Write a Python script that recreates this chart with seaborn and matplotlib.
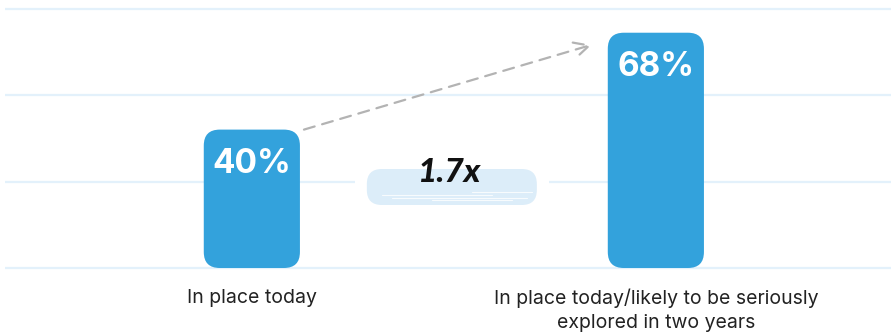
import numpy as np
import pandas as pd
import matplotlib
matplotlib.use("Agg")
import matplotlib.pyplot as plt
from matplotlib.patches import FancyBboxPatch
import seaborn as sns

# Share of organisations, now vs. within two years
categories = ["In place today", "In place today/likely to be seriously\nexplored in two years"]
values = [40, 68]
value_labels = ["40%", "68%"]
growth_label = "1.7x"

BAR_COLOR = "#33a2dc"
GRID_COLOR = "#e3f1fb"
BRUSH_COLOR = "#dcedf9"

sns.set_theme(style="white")
plt.rcParams["font.family"] = ["Inter", "DejaVu Sans"]

W, H, DPI = 891, 333, 100
fig = plt.figure(figsize=(W / DPI, H / DPI), dpi=DPI)
ax_left, ax_bottom_px, ax_top_px = 5, 272, 0
base_px = 268          # pixel row of the zero line
px_y = 3.46            # pixels per percentage point
y_min = -(ax_bottom_px - base_px) / px_y
y_max = base_px / px_y
ax = fig.add_axes([ax_left / W, (H - ax_bottom_px) / H, (W - ax_left) / W, (ax_bottom_px - ax_top_px) / H])

df = pd.DataFrame({"category": categories, "value": values})
bar_width = 0.238
sns.barplot(data=df, x="category", y="value", color=BAR_COLOR, width=bar_width,
            saturation=1, ax=ax, zorder=3)

x_left, x_right = -0.611, 1.582
ax.set_xlim(x_left, x_right)
ax.set_ylim(y_min, y_max)

px_x = (W - ax_left) / (x_right - x_left)
radius_px = 16

for patch in list(ax.patches):
    x, y = patch.get_x(), patch.get_y()
    w, h = patch.get_width(), patch.get_height()
    patch.remove()
    rounded = FancyBboxPatch(
        (x, y), w, h,
        boxstyle=f"round,pad=0,rounding_size={radius_px / px_x}",
        mutation_aspect=px_x / px_y,
        facecolor=BAR_COLOR, edgecolor="none", zorder=3,
    )
    ax.add_patch(rounded)

# value labels inside the bars
for i, (v, lab) in enumerate(zip(values, value_labels)):
    ax.text(i, v - 34 / px_y, lab, ha="center", va="center", color="white",
            fontsize=24, fontweight="bold", zorder=5)

# horizontal guide lines
ax.set_yticks([0, 25, 50, 75])
ax.yaxis.grid(True, color=GRID_COLOR, linewidth=1.6, zorder=0)
ax.xaxis.grid(False)
ax.set_yticklabels([])
ax.tick_params(axis="y", length=0)
ax.tick_params(axis="x", length=0, pad=12, labelsize=14, labelcolor="#222222")
for lbl in ax.get_xticklabels():
    lbl.set_linespacing(1.4)
for s in ax.spines.values():
    s.set_visible(False)
ax.set_xlabel("")
ax.set_ylabel("")
ax.set_axisbelow(True)

# dashed growth arrow from the first bar towards the second
ax.annotate(
    "", xy=(1 - bar_width / 2 - 0.04, values[1] - 3.5),
    xytext=(bar_width / 2 + 0.01, values[0]),
    arrowprops=dict(arrowstyle="->,head_length=0.9,head_width=0.45", color="#b3b3b3",
                    lw=1.6, linestyle=(0, (5, 3.5)), shrinkA=0, shrinkB=0),
    zorder=4,
)

# brush-stroke highlight behind the growth factor
cx = 0.5 - 0.005
cy = (base_px - 187) / px_y
bw_px, bh_px = 170, 36
ax.add_patch(FancyBboxPatch(
    (cx - (bw_px / 2 + 12) / px_x, cy - (bh_px / 2 + 2) / px_y), (bw_px + 24) / px_x, (bh_px + 4) / px_y,
    boxstyle="square,pad=0", facecolor="white", edgecolor="none", zorder=1))
ax.add_patch(FancyBboxPatch(
    (cx - bw_px / 2 / px_x, cy - bh_px / 2 / px_y), bw_px / px_x, bh_px / px_y,
    boxstyle=f"round,pad=0,rounding_size={15 / px_x}", mutation_aspect=px_x / px_y,
    facecolor=BRUSH_COLOR, edgecolor="none", zorder=2))
for dy, x0, x1 in [(-8, -70, 40), (-11, -60, 75), (-5, 20, 80), (-13, -20, 60)]:
    ax.plot([cx + x0 / px_x, cx + x1 / px_x], [cy + dy / px_y] * 2, color="white",
            lw=0.8, alpha=0.8, zorder=2.5, solid_capstyle="round")

ax.text(cx - 0.005, (base_px - 172) / px_y, growth_label, ha="center", va="center",
        fontsize=24, fontweight="black", fontstyle="italic", color="#111111",
        family=["Lato", "DejaVu Sans"], zorder=6)

fig.savefig("out.png", dpi=DPI)
